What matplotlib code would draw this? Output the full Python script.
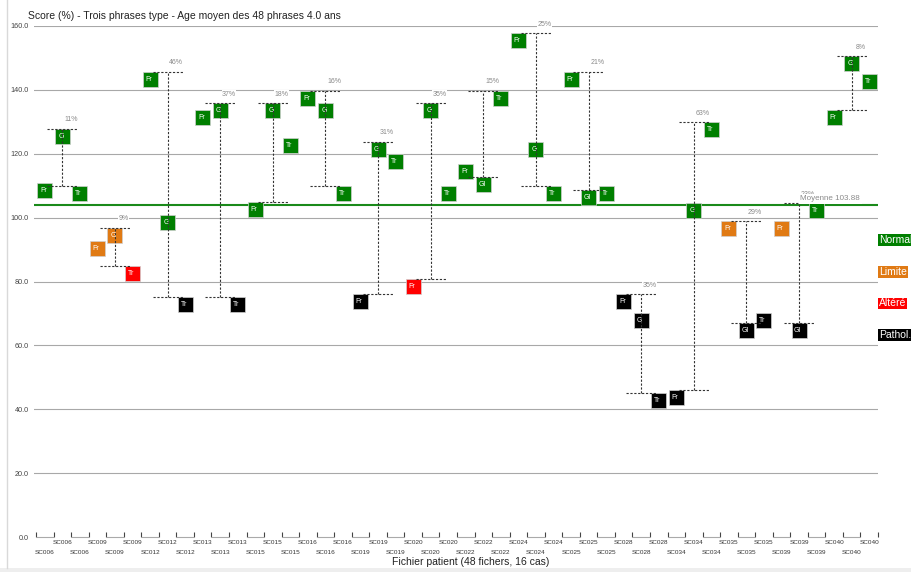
import matplotlib.pyplot as plt
import matplotlib.patches as patches
import matplotlib.transforms as mtransforms
from matplotlib.lines import Line2D
import numpy as np

plt.rcParams['font.family'] = ['Liberation Sans', 'DejaVu Sans']

# Cas patients (3 phrases par cas : Fr, G/Gl, Tr)
cas = ['SC006', 'SC009', 'SC012', 'SC013', 'SC015', 'SC016', 'SC019', 'SC020',
       'SC022', 'SC024', 'SC025', 'SC028', 'SC034', 'SC035', 'SC039', 'SC040']
noms_mid = ['G', 'G', 'G', 'G', 'G', 'G', 'G', 'G',
            'Gl', 'G', 'Gl', 'G', 'G', 'Gl', 'Gl', 'G']

# Scores (%)
score_fr = [110.8, 92.8, 145.7, 133.7, 104.8, 139.7, 76.1, 80.7,
            116.8, 157.7, 145.7, 76.0, 46.0, 98.9, 98.9, 133.7]
score_mid = [127.8, 96.8, 100.7, 135.8, 135.8, 135.8, 123.8, 135.8,
             112.8, 123.8, 108.8, 70.2, 104.7, 67.1, 67.1, 150.6]
score_tr = [109.9, 84.8, 75.2, 75.2, 124.8, 109.9, 119.8, 109.9,
            139.7, 109.9, 110.0, 45.2, 129.8, 70.2, 104.5, 144.9]

# Etat : N = normal, L = limite, A = altéré, P = pathologique
etat_fr = ['N', 'L', 'N', 'N', 'N', 'N', 'P', 'A', 'N', 'N', 'N', 'P', 'P', 'L', 'L', 'N']
etat_mid = ['N', 'L', 'N', 'N', 'N', 'N', 'N', 'N', 'N', 'N', 'N', 'P', 'N', 'P', 'P', 'N']
etat_tr = ['N', 'A', 'P', 'P', 'N', 'N', 'N', 'N', 'N', 'N', 'N', 'P', 'N', 'P', 'N', 'N']

ecarts = ['11%', '9%', '46%', '37%', '18%', '16%', '31%', '35%',
          '15%', '25%', '21%', '35%', '63%', '29%', '23%', '8%']

moyenne = 103.88
yticks = [0, 20, 40, 60, 80, 100, 120, 140, 160]

couleurs = {'N': '#007f00', 'L': '#e07a14', 'A': '#ff0000', 'P': '#000000'}
legende = [('Normal', 'N'), ('Limite', 'L'), ('Altéré', 'A'), ('Pathol.', 'P')]

W, H = 911, 572
fig = plt.figure(figsize=(W / 100, H / 100), dpi=100)
ax = fig.add_axes([34 / W, 35 / H, 844 / W, 511 / H])
ax.set_xlim(-0.616, 47.5)
ax.set_ylim(0, 160)
for s in ax.spines.values():
    s.set_visible(False)

# grille horizontale
ax.set_yticks(yticks)
ax.set_yticklabels([f'{v:.1f}' for v in yticks], fontsize=5.2, color='#444444')
ax.tick_params(axis='y', length=0, pad=3.6)
ax.grid(True, axis='y', color='#a8a8a8', lw=0.8, zorder=0)
ax.yaxis.get_gridlines()[0].set_visible(False)
ax.set_axisbelow(True)

# axe x : libellés sur deux rangées (impairs en haut, pairs en bas)
n = 3 * len(cas)
pos = np.arange(n)
impairs, pairs = pos[1::2], pos[::2]
ax.set_xticks(impairs)
ax.set_xticklabels([cas[p // 3] for p in impairs], fontsize=4.6, color='#333333')
ax.set_xticks(pairs, minor=True)
ax.set_xticklabels([cas[p // 3] for p in pairs], minor=True, fontsize=4.6, color='#333333')
ax.tick_params(axis='x', which='major', length=0, pad=2.2)
ax.tick_params(axis='x', which='minor', length=0, pad=9.3)
bornes = np.arange(-0.5, n, 1)
ax.vlines(bornes, 0, 1.6, colors='#444444', lw=0.8, clip_on=False)
ax.hlines(np.zeros(len(pairs)), pairs - 0.5, pairs + 0.5, colors='#aaaaaa', lw=0.8, clip_on=False)

# moyenne
ax.axhline(moyenne, color='#1a8a1a', lw=1.5, zorder=2)
trans = mtransforms.blended_transform_factory(ax.transAxes, ax.transData)
ax.text(0.908, moyenne + 0.9, f'Moyenne {moyenne:.2f}', transform=trans, fontsize=5.8,
        color='#8a8a8a', va='bottom', ha='left', zorder=7,
        bbox=dict(fc='white', ec='none', pad=1.2))

bw, bh = 15 / 17.54, 15 / 3.194
for i in range(len(cas)):
    vals = [score_fr[i], score_mid[i], score_tr[i]]
    etats = [etat_fr[i], etat_mid[i], etat_tr[i]]
    noms = ['Fr', noms_mid[i], 'Tr']
    for j in range(3):
        p = 3 * i + j
        rect = patches.Rectangle((p - bw / 2, vals[j] - bh), bw, bh,
                                 facecolor=couleurs[etats[j]], edgecolor='#d0d0d0',
                                 lw=0.5, zorder=3)
        ax.add_patch(rect)
        ax.text(p - 0.08, vals[j] - bh / 2, noms[j], color='white', fontsize=5,
                ha='center', va='center', zorder=4)
    # écart min / max
    xm = 3 * i + 1
    hi, lo = max(vals), min(vals)
    ax.vlines(xm, lo, hi, colors='#333333', lw=0.8, linestyles=(0, (2, 1.5)), zorder=5)
    ax.hlines([hi, lo], xm - 0.86, xm + 0.86, colors='#333333', lw=0.8,
              linestyles=(0, (2, 1.5)), zorder=5)
    ax.text(xm + 0.5, hi + 2.8, ecarts[i], fontsize=5, color='#8a8a8a', ha='center',
            va='center', zorder=2.5, bbox=dict(fc='white', ec='none', pad=0.3))

# légende à droite
for k, (nom, e) in enumerate(legende):
    fig.text(879 / W, 1 - (240 + 31.7 * k) / H, nom, color='white', fontsize=7.5,
             ha='left', va='center', bbox=dict(fc=couleurs[e], ec='none', pad=0.6))

fig.text(28 / W, 1 - 16 / H, 'Score (%) - Trois phrases type - Age moyen des 48 phrases 4.0 ans',
         fontsize=7.5, color='#222222', ha='left', va='center')
fig.text(471 / W, 1 - 562 / H, 'Fichier patient (48 fichers, 16 cas)',
         fontsize=7.5, color='#222222', ha='center', va='center')

# cadre
fig.add_artist(Line2D([7 / W, 7 / W], [4 / H, 1], color='#d9d9d9', lw=1))
fig.add_artist(patches.Rectangle((0, 0), 1, 4 / H, transform=fig.transFigure,
                                 fc='#eeeeee', ec='none'))

fig.savefig('out.png', dpi=100)
